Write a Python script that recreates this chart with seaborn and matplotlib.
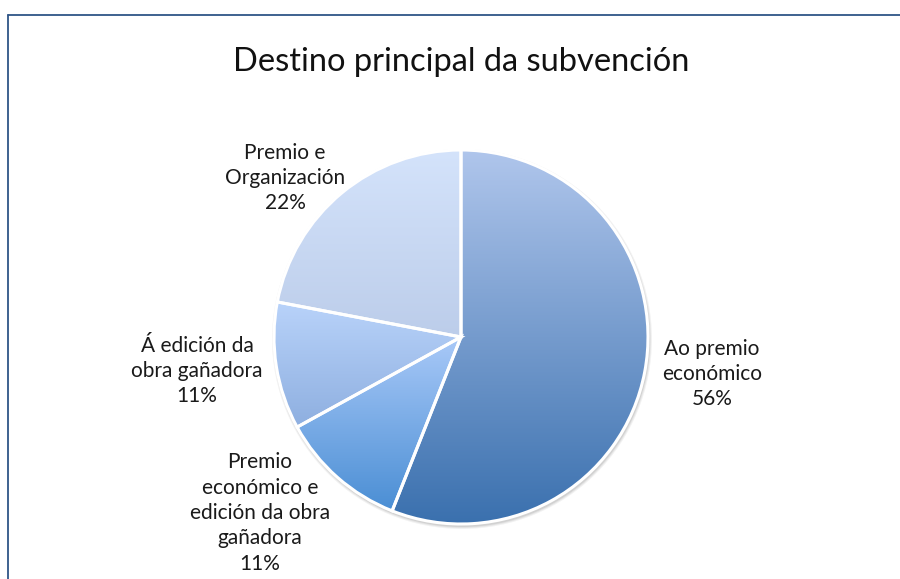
import numpy as np
import matplotlib
matplotlib.use("Agg")
import matplotlib.pyplot as plt
from matplotlib.colors import LinearSegmentedColormap
from matplotlib.lines import Line2D
from matplotlib.patches import Circle
import seaborn as sns

# data, clockwise from 12 o'clock
categories = ["Ao premio\neconómico",
              "Premio\neconómico e\nedición da obra\ngañadora",
              "Á edición da\nobra gañadora",
              "Premio e\nOrganización"]
shares = [56, 11, 11, 22]
title = "Destino principal da subvención"

# (top colour, bottom colour) of each slice gradient
gradients = [("#b0c6ec", "#3a70ae"),
             ("#a9c9f8", "#4a8ed4"),
             ("#b9d3fa", "#8eafe0"),
             ("#d4e3fb", "#bccdea")]

# layout in pixels (y measured from top)
W, H = 900, 579
center_px = (461, 337)
radius_px = 187
label_pos = [(712, 374), (260, 513), (197, 371), (285, 178)]

sns.set_theme(style="white")
plt.rcParams["font.family"] = ["Lato", "DejaVu Sans"]

fig = plt.figure(figsize=(W / 100, H / 100), dpi=100)
fig.patch.set_facecolor("white")
ax = fig.add_axes([0, 0, 1, 1])

cx, cy = center_px[0], H - center_px[1]

# soft shadow under the pie
for k, a in enumerate([0.05, 0.06, 0.08]):
    ax.add_patch(Circle((cx + 1, cy - 2), radius_px + 3 - k, color="#000000",
                        alpha=a, lw=0, zorder=1))

wedges, _ = ax.pie(shares, startangle=90, counterclock=False,
                   center=(cx, cy), radius=radius_px,
                   wedgeprops=dict(facecolor="none", edgecolor="white",
                                   linewidth=2.2, zorder=3))

for w, (top, bottom) in zip(wedges, gradients):
    verts = w.get_path().vertices
    x0, x1 = verts[:, 0].min(), verts[:, 0].max()
    y0, y1 = verts[:, 1].min(), verts[:, 1].max()
    cmap = LinearSegmentedColormap.from_list("g", [bottom, top])
    grad = np.linspace(0, 1, 256).reshape(-1, 1)
    im = ax.imshow(grad, cmap=cmap, extent=(x0, x1, y0, y1), origin="lower",
                   aspect="auto", zorder=2, interpolation="bilinear")
    im.set_clip_path(w)

for name, val, (lx, ly) in zip(categories, shares, label_pos):
    ax.text(lx, H - ly, f"{name}\n{val}%", ha="center", va="center",
            fontsize=15, color="#1a1a1a", linespacing=1.33)

ax.text(cx, H - 62, title, ha="center", va="center", fontsize=23.5,
        color="#111111")

ax.set_xlim(0, W)
ax.set_ylim(0, H)
ax.set_aspect("equal")
ax.axis("off")

# chart frame
frame = "#2f5587"
fig.add_artist(Line2D([8 / W, 8 / W], [0, 1 - 15 / H], color=frame, lw=1.3,
                      transform=fig.transFigure))
fig.add_artist(Line2D([8 / W, 1], [1 - 15 / H, 1 - 15 / H], color=frame, lw=1.3,
                      transform=fig.transFigure))

fig.savefig("out.png", dpi=100, facecolor="white")
